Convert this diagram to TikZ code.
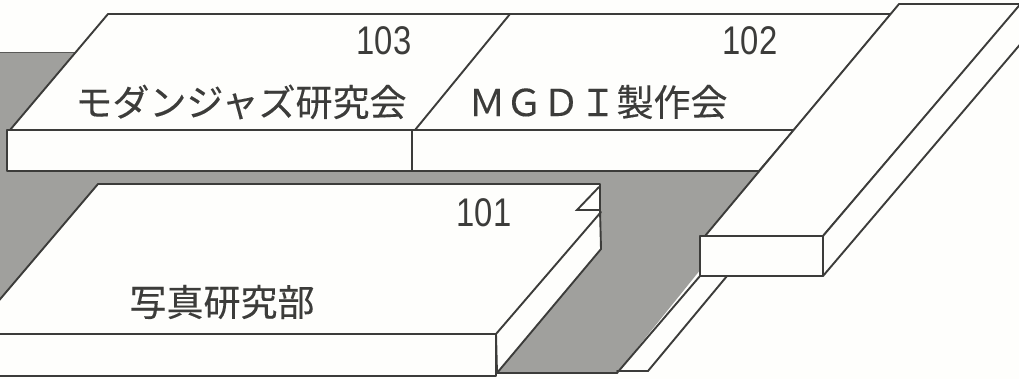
\documentclass[tikz,border=0pt]{standalone}
\usepackage{graphicx}
\usepackage{fontspec}
\setmainfont{Liberation Sans}
\newfontfamily\jpfont[FakeBold=0.2]{Noto Sans CJK JP}
\definecolor{ln}{HTML}{3C3C3A}
\definecolor{gr}{HTML}{A0A09D}
\definecolor{pp}{HTML}{FEFEFC}
\tikzset{
  slab/.style={draw=ln,fill=pp,line width=1.9pt,line join=round},
  edge/.style={draw=ln,line width=1.9pt,line cap=round},
  jlabel/.style={inner sep=0pt,text=ln,font=\jpfont\fontsize{37}{37}\selectfont},
  num/.style={inner sep=0pt,text=ln,font=\fontsize{40}{40}\selectfont}
}
\newcommand{\narrow}[1]{\scalebox{.82}[1]{#1}}
\begin{document}
\begin{tikzpicture}[x=1pt,y=-1pt]
\useasboundingbox (0,0) rectangle (1019,379);
\clip (0,0) rectangle (1019,379);
\fill[pp] (0,0) rectangle (1019,379);
% grey floor
\fill[gr] (0,53) -- (100,53) -- (100,171) -- (780,171) -- (617,373) -- (497,373) -- (497,310) -- (0,310) -- cycle;
\draw[draw=ln!70!gr,line width=1pt] (0,53) -- (80,53);
% room 103 and 102
\filldraw[slab] (108,14) -- (891,14) -- (794,130) -- (10,130) -- cycle;
\filldraw[slab] (7,130) rectangle (412,171);
\filldraw[slab] (412,130) -- (794,130) -- (759,171) -- (412,171) -- cycle;
\draw[edge] (510,14) -- (415,130);
% room 101
\filldraw[slab] (98,184) -- (600,184) -- (600,210) -- (601,249) -- (497,373) -- (496,334) -- (-4,334) -- (-4,304) -- cycle;
\draw[edge] (599,187) -- (577,210) -- (600,210);
\draw[edge] (496,334) -- (601,212);
\filldraw[slab] (-4,334) rectangle (496,376);
% lower strip of the corridor block
\fill[pp] (700,276) -- (617,373) -- (648,371) -- (727,276) -- cycle;
\draw[edge] (700,276) -- (617,373) -- (497,373);
\draw[edge] (617,371) -- (648,371) -- (727,276);
% corridor block
\filldraw[slab] (899,4) -- (1023,4) -- (1023,2) -- (823,236) -- (705,236) -- cycle;
\filldraw[slab] (823,236) -- (1023,1) -- (1023,41) -- (823,276) -- cycle;
\filldraw[slab] (700,236) rectangle (823,276);
% labels
\node[num] (n103) at (384,41) {\narrow{103}};
\node[num] (n102) at (750,41) {\narrow{102}};
\node[num] (n101) at (484,213) {\narrow{101}};
\node[jlabel] (a) at (241,102) {モダンジャズ研究会};
\node[jlabel] (b) at (598,102) {ＭＧＤＩ製作会};
\node[jlabel] (c) at (222,302) {写真研究部};
\end{tikzpicture}
\end{document}
